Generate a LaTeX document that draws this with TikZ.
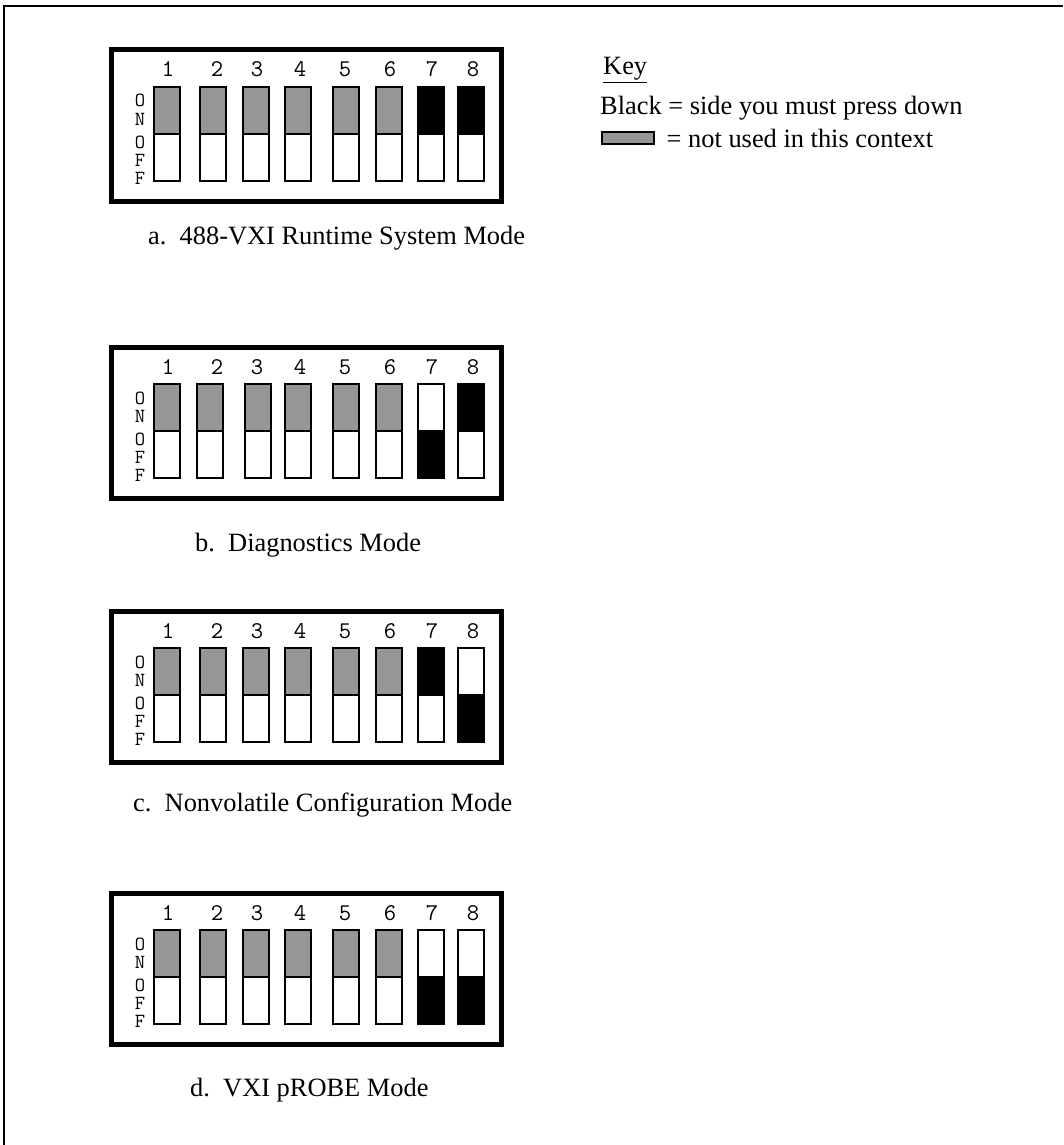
\documentclass[tikz,border=0pt]{standalone}
\usepackage{fontspec}
\setmainfont{Liberation Serif}
\usetikzlibrary{positioning}

\definecolor{unused}{RGB}{150,150,150}

\tikzset{
  switchbox/.style={line width=2.5pt},
  panelbox/.style={line width=5pt},
  swnum/.style={font=\fontsize{24}{24}\selectfont\ttfamily, inner sep=0pt, anchor=base},
  onoff/.style={font=\fontsize{20}{20}\selectfont\ttfamily, inner sep=0pt, anchor=base},
  caption/.style={font=\fontsize{26.4}{28}\selectfont, anchor=west, inner sep=0pt},
  keytext/.style={font=\fontsize{26.4}{28}\selectfont, anchor=west, inner sep=0pt},
}

% one switch: left edge, fill of ON half, fill of OFF half
\newcommand{\dipsw}[3]{%
  \filldraw[switchbox, fill=#2] (#1,39) rectangle ++(26,47);
  \filldraw[switchbox, fill=#3] (#1,86) rectangle ++(26,47);
}

% the frame, numbers and ON/OFF letters of one panel
\newcommand{\dippanel}[1]{%
  \draw[panelbox] (111,2) rectangle (501,153);
  \foreach \n/\x in {1/168,2/217,3/257,4/300,5/345,6/390,7/432,8/473}
    \node[swnum] (#1num\n) at (\x,29) {\n};
  \foreach \l/\y/\i in {O/59/1,N/77/2,O/100/3,F/118/4,F/136/5}
    \node[onoff] (#1sw\i) at (140,\y) {\l};
}

\begin{document}
\begin{tikzpicture}[x=1pt, y=-1pt]
  \useasboundingbox (0,0) rectangle (1063,1145);

  % outer frame
  \draw[line width=2pt] (4,1145) -- (4,6) -- (1063,6);

  % key
  \node[keytext] (key) at (603,70) {\underline{Key}};
  \node[keytext] (black) at (600,108) {Black = side you must press down};
  \node[draw, line width=1.5pt, fill=unused, minimum width=52pt,
        minimum height=12pt, inner sep=0pt, anchor=west] (swatch) at (601,138) {};
  \node[keytext, right=12pt of swatch] (notused) {= not used in this context};

  % a. runtime system
  \begin{scope}[shift={(0,48)}]
    \dippanel{a}
    \foreach \x in {154,200,243,285,333,376} {\dipsw{\x}{unused}{white}}
    \dipsw{418}{black}{white}
    \dipsw{458}{black}{white}
  \end{scope}
  \node[caption] (capa) at (148,238) {a.\ \ 488-VXI Runtime System Mode};

  % b. diagnostics
  \begin{scope}[shift={(0,345)}]
    \dippanel{b}
    \foreach \x in {154,197,245,285,333,376} {\dipsw{\x}{unused}{white}}
    \dipsw{418}{white}{black}
    \dipsw{458}{black}{white}
  \end{scope}
  \node[caption] (capb) at (195,545) {b.\ \ Diagnostics Mode};

  % c. nonvolatile configuration
  \begin{scope}[shift={(0,609)}]
    \dippanel{c}
    \foreach \x in {154,200,243,285,333,376} {\dipsw{\x}{unused}{white}}
    \dipsw{418}{black}{white}
    \dipsw{458}{white}{black}
  \end{scope}
  \node[caption] (capc) at (133,805) {c.\ \ Nonvolatile Configuration Mode};

  % d. vxi probe
  \begin{scope}[shift={(0,891)}]
    \dippanel{d}
    \foreach \x in {154,200,243,285,333,376} {\dipsw{\x}{unused}{white}}
    \dipsw{418}{white}{black}
    \dipsw{458}{white}{black}
  \end{scope}
  \node[caption] (capd) at (190,1090) {d.\ \ VXI pROBE Mode};
\end{tikzpicture}
\end{document}
